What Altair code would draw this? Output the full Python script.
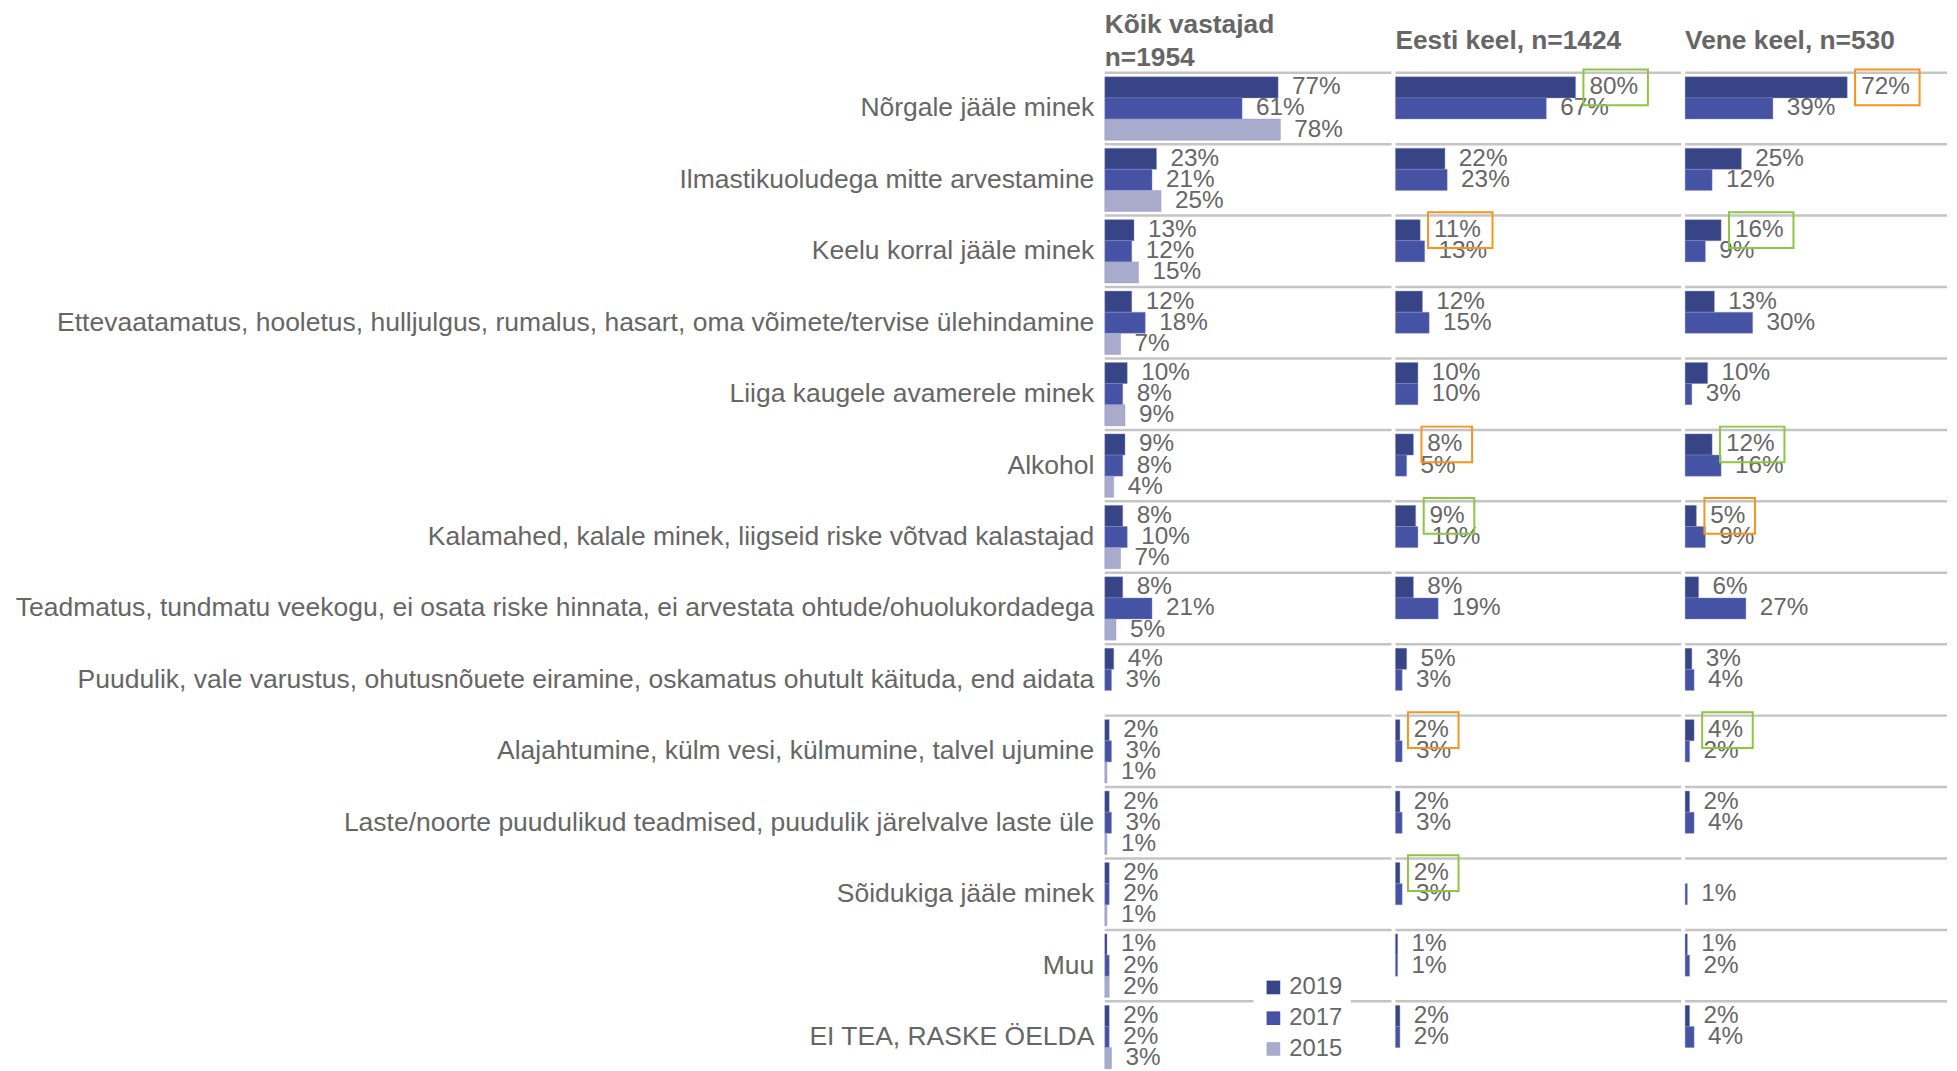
import altair as alt
import pandas as pd

FONT = "Liberation Sans"
GREY = "#666666"

categories = [
    "Nõrgale jääle minek",
    "Ilmastikuoludega mitte arvestamine",
    "Keelu korral jääle minek",
    "Ettevaatamatus, hooletus, hulljulgus, rumalus, hasart, oma võimete/tervise ülehindamine",
    "Liiga kaugele avamerele minek",
    "Alkohol",
    "Kalamahed, kalale minek, liigseid riske võtvad kalastajad",
    "Teadmatus, tundmatu veekogu, ei osata riske hinnata, ei arvestata ohtude/ohuolukordadega",
    "Puudulik, vale varustus, ohutusnõuete eiramine, oskamatus ohutult käituda, end aidata",
    "Alajahtumine, külm vesi, külmumine, talvel ujumine",
    "Laste/noorte puudulikud teadmised, puudulik järelvalve laste üle",
    "Sõidukiga jääle minek",
    "Muu",
    "EI TEA, RASKE ÖELDA",
]
years = ["2019", "2017", "2015"]
panel_names = ["Kõik vastajad", "Eesti keel", "Vene keel"]

all_2019 = [77, 23, 13, 12, 10, 9, 8, 8, 4, 2, 2, 2, 1, 2]
all_2017 = [61, 21, 12, 18, 8, 8, 10, 21, 3, 3, 3, 2, 2, 2]
all_2015 = [78, 25, 15, 7, 9, 4, 7, 5, None, 1, 1, 1, 2, 3]
est_2019 = [80, 22, 11, 12, 10, 8, 9, 8, 5, 2, 2, 2, 1, 2]
est_2017 = [67, 23, 13, 15, 10, 5, 10, 19, 3, 3, 3, 3, 1, 2]
rus_2019 = [72, 25, 16, 13, 10, 12, 5, 6, 3, 4, 2, None, 1, 2]
rus_2017 = [39, 12, 9, 30, 3, 16, 9, 27, 4, 2, 4, 1, 2, 4]

# significance markers on the 2019 values
est_flags = ["up", None, "down", None, None, "down", "up", None, None, "down", None, "up", None, None]
rus_flags = ["down", None, "up", None, None, "up", "down", None, None, "up", None, None, None, None]
no_flags = [None] * len(categories)

series = {
    "Kõik vastajad": [("2019", all_2019, no_flags), ("2017", all_2017, no_flags), ("2015", all_2015, no_flags)],
    "Eesti keel": [("2019", est_2019, est_flags), ("2017", est_2017, no_flags)],
    "Vene keel": [("2019", rus_2019, rus_flags), ("2017", rus_2017, no_flags)],
}

rows = []
for p, lst in series.items():
    for yr, vals, flags in lst:
        for c, v, f in zip(categories, vals, flags):
            if v is None:
                continue
            rows.append({"panel": p, "cat": c, "year": yr, "value": v,
                         "label": f"{v}%", "flag": f if f else "none",
                         "digits": len(str(v))})
df = pd.DataFrame(rows)
cat_df = pd.DataFrame({"cat": categories})

color_scale = alt.Scale(domain=years, range=["#374587", "#4653A5", "#A9ABCD"])
flag_scale = alt.Scale(domain=["up", "down"], range=["#8DC63F", "#F7941D"])
legend = alt.Legend(title=None, orient="none", legendX=150, legendY=902,
                    fillColor="white", padding=8, symbolType="square",
                    symbolSize=190, labelFontSize=24, labelColor=GREY,
                    labelFont=FONT, rowPadding=7, symbolStrokeWidth=0)

BOX2 = "M-1,-0.554H1V0.554H-1Z"
BOX1 = "M-1,-0.706H1V0.706H-1Z"

HEIGHT = 1008


def panel(name, title, width, xmax, show_labels, title_offset):
    d = df[df.panel == name]
    if show_labels:
        yaxis = alt.Axis(title=None, labelFontSize=26.7, labelColor=GREY, labelFont=FONT,
                         labelLimit=2000, labelPadding=11, ticks=False, tickSize=0,
                         domain=False, grid=False)
    else:
        yaxis = None
    yenc = alt.Y("cat:N", sort=categories,
                 scale=alt.Scale(domain=categories, paddingInner=0, paddingOuter=0),
                 axis=yaxis)
    yoff = alt.YOffset("year:N", sort=years,
                       scale=alt.Scale(domain=years, paddingInner=0, paddingOuter=0.19))
    xs = alt.Scale(domain=[0, xmax], nice=False, zero=True)

    rules = alt.Chart(cat_df).mark_rule(color="#C4C4C4", strokeWidth=2.5).encode(
        y=alt.Y("cat:N", sort=categories, bandPosition=0,
                scale=alt.Scale(domain=categories, paddingInner=0, paddingOuter=0),
                axis=yaxis)
    )
    base = alt.Chart(d).encode(y=yenc, yOffset=yoff)
    bars = base.mark_bar(stroke="#8C93C4", strokeWidth=0.4).encode(
        x=alt.X("value:Q", scale=xs, axis=None),
        color=alt.Color("year:N", scale=color_scale, legend=legend),
    )
    text = base.mark_text(align="left", baseline="middle", dx=14, fontSize=24.5,
                          font=FONT, color=GREY).encode(
        x=alt.X("value:Q", scale=xs, axis=None),
        text="label:N",
    )
    layers = [rules, bars, text]
    fd = d[d.flag != "none"]
    if len(fd):
        for dig, path, size, off in [(2, BOX2, 65 * 65, 17.8), (1, BOX1, 51 * 51, 14.8)]:
            sub = fd[fd.digits == dig]
            if len(sub) == 0:
                continue
            box = alt.Chart(sub).transform_calculate(
                bx=f"datum.value + {off}"
            ).mark_point(shape=path, size=size, filled=False, strokeWidth=2, opacity=1).encode(
                y=yenc, yOffset=yoff,
                x=alt.X("bx:Q", scale=xs, axis=None),
                stroke=alt.Stroke("flag:N", scale=flag_scale, legend=None),
            )
            layers.append(box)
    return alt.layer(*layers).properties(
        width=width, height=HEIGHT,
        title=alt.Title(title, anchor="start", frame="group", fontSize=26.5,
                        fontWeight="bold", color=GREY, font=FONT,
                        offset=title_offset, lineHeight=33),
    )


p1 = panel("Kõik vastajad", ["Kõik vastajad", "n=1954"], 289, 289 / 2.27, True, 0)
p2 = panel("Eesti keel", "Eesti keel, n=1424", 288, 288 / 2.27, False, 11)
p3 = panel("Vene keel", "Vene keel, n=530", 264, 264 / 2.27, False, 11)

chart = alt.hconcat(p1, p2, p3, spacing=0).properties(
    padding={"left": 6.5, "top": 0, "right": 0, "bottom": 0},
    background="white",
).configure_view(stroke=None).resolve_scale(x="independent")

chart.save("out.html", embed_options={"renderer": "svg", "actions": False})
